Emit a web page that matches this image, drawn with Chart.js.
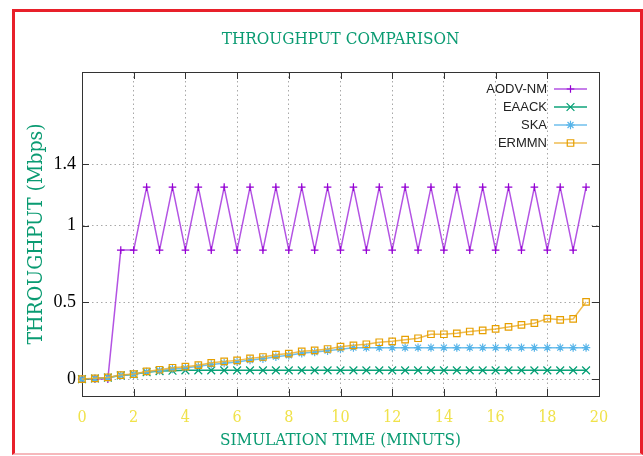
<!DOCTYPE html>
<html>
<head>
<meta charset="utf-8">
<script src="https://cdn.jsdelivr.net/npm/chart.js@4.4.1/dist/chart.umd.min.js"></script>
<style>
  html, body { margin: 0; padding: 0; background: #fff; }
  #wrap { position: relative; width: 643px; height: 456px; }
  #frame { position: absolute; left: 12px; top: 9px; width: 625px; height: 441px;
    border-left: 3px solid #e8202a; border-top: 3px solid #e8202a;
    border-right: 3px solid #e8202a; border-bottom: 2px solid #f6b8bc;
    pointer-events: none; }
</style>
</head>
<body>
<div id="wrap">
  <canvas id="chart" width="643" height="456"></canvas>
  <div id="frame"></div>
</div>
<script>
// simulation time in minutes
const time = [0, 0.5, 1, 1.5, 2, 2.5, 3, 3.5, 4, 4.5, 5, 5.5, 6, 6.5, 7, 7.5, 8, 8.5, 9, 9.5,
  10, 10.5, 11, 11.5, 12, 12.5, 13, 13.5, 14, 14.5, 15, 15.5, 16, 16.5, 17, 17.5, 18, 18.5, 19, 19.5]

// throughput (Mbps)
const aodvNm = [0, 0, 0, 0.84, 0.84, 1.25, 0.84, 1.25, 0.84, 1.25, 0.84, 1.25, 0.84, 1.25, 0.84, 1.25,
  0.84, 1.25, 0.84, 1.25, 0.84, 1.25, 0.84, 1.25, 0.84, 1.25, 0.84, 1.25, 0.84, 1.25, 0.84, 1.25,
  0.84, 1.25, 0.84, 1.25, 0.84, 1.25, 0.84, 1.25]
const eaack = [0, 0.004, 0.01, 0.024, 0.031, 0.045, 0.052, 0.055, 0.057, 0.057, 0.057, 0.057, 0.057,
  0.057, 0.057, 0.057, 0.057, 0.057, 0.057, 0.057, 0.057, 0.057, 0.057, 0.057, 0.057, 0.057, 0.057,
  0.057, 0.057, 0.057, 0.057, 0.057, 0.057, 0.057, 0.057, 0.057, 0.057, 0.057, 0.057, 0.057]
const ska = [0, 0.004, 0.01, 0.024, 0.031, 0.047, 0.056, 0.066, 0.073, 0.083, 0.095, 0.104, 0.112,
  0.124, 0.133, 0.146, 0.155, 0.168, 0.176, 0.185, 0.195, 0.205, 0.205, 0.205, 0.205, 0.205, 0.205,
  0.205, 0.205, 0.205, 0.205, 0.205, 0.205, 0.205, 0.205, 0.205, 0.205, 0.205, 0.205, 0.205]
const ermmn = [0, 0.005, 0.011, 0.026, 0.033, 0.05, 0.061, 0.074, 0.081, 0.091, 0.106, 0.115, 0.122,
  0.135, 0.144, 0.159, 0.166, 0.181, 0.187, 0.196, 0.211, 0.22, 0.227, 0.24, 0.246, 0.257, 0.266,
  0.292, 0.292, 0.298, 0.31, 0.318, 0.327, 0.34, 0.353, 0.364, 0.394, 0.386, 0.392, 0.503]

const seriesNames = ['AODV-NM', 'EAACK', 'SKA', 'ERMMN']
const yTicks = [0, 0.5, 1, 1.4]
const chartTitle = 'THROUGHPUT COMPARISON'

const GREEN_TEXT = '#0a9b72'
const YELLOW_TEXT = '#f0e24a'
const GRID = '#a8a8a8'
const slab = '"DejaVu Serif Condensed", "DejaVu Serif", serif'

function points (values) {
  return values.map((v, i) => ({ x: time[i], y: v }))
}

function series (label, values, color, lineColor, style, radius, order) {
  return {
    label,
    data: points(values),
    borderColor: lineColor,
    borderWidth: 1.5,
    pointStyle: style,
    pointRadius: radius,
    pointBorderColor: color,
    pointBackgroundColor: 'rgba(0,0,0,0)',
    pointBorderWidth: 1.2,
    tension: 0,
    clip: false,
    order
  }
}

// title centred over the plot area (gnuplot style), not over the whole canvas
const plotTitle = {
  id: 'plotTitle',
  afterDraw (chart) {
    const { ctx, chartArea } = chart
    ctx.save()
    ctx.font = '17px ' + slab
    ctx.fillStyle = GREEN_TEXT
    ctx.textAlign = 'center'
    ctx.textBaseline = 'middle'
    ctx.fillText(chartTitle, (chartArea.left + chartArea.right) / 2, 40)
    ctx.restore()
  }
}

// legend drawn inside the plot, text on the left and the sample on the right
const insideLegend = {
  id: 'insideLegend',
  afterDatasetsDraw (chart) {
    const { ctx, chartArea } = chart
    ctx.save()
    ctx.font = '13px "Liberation Sans Narrow", "Liberation Sans", sans-serif'
    ctx.textAlign = 'right'
    ctx.textBaseline = 'middle'
    chart.data.datasets.forEach((ds, i) => {
      const x = chartArea.right - 52
      const y = chartArea.top + 17 + i * 18
      ctx.fillStyle = '#222'
      ctx.fillText(ds.label, x, y)
      ctx.strokeStyle = ds.borderColor
      ctx.lineWidth = 1.5
      ctx.beginPath()
      ctx.moveTo(x + 7, y)
      ctx.lineTo(x + 40, y)
      ctx.stroke()
      ctx.strokeStyle = ds.pointBorderColor
      ctx.fillStyle = 'rgba(0,0,0,0)'
      ctx.lineWidth = 1.2
      Chart.helpers.drawPoint(ctx, { pointStyle: ds.pointStyle, radius: ds.pointRadius, borderWidth: 1.2, rotation: 0 }, x + 23.5, y)
    })
    ctx.restore()
  }
}

// gnuplot style box with inward tick marks
const plotBox = {
  id: 'plotBox',
  beforeDatasetsDraw (chart) {
    const { ctx, chartArea: a, scales } = chart
    ctx.save()
    ctx.strokeStyle = '#333'
    ctx.lineWidth = 1
    ctx.strokeRect(a.left + 0.5, a.top + 0.5, a.right - a.left, a.bottom - a.top)
    ctx.beginPath()
    scales.x.ticks.forEach(t => {
      const px = Math.round(scales.x.getPixelForValue(t.value)) + 0.5
      ctx.moveTo(px, a.bottom); ctx.lineTo(px, a.bottom - 7)
      ctx.moveTo(px, a.top); ctx.lineTo(px, a.top + 7)
    })
    scales.y.ticks.forEach(t => {
      const py = Math.round(scales.y.getPixelForValue(t.value)) + 0.5
      ctx.moveTo(a.left, py); ctx.lineTo(a.left + 7, py)
      ctx.moveTo(a.right, py); ctx.lineTo(a.right - 7, py)
    })
    ctx.stroke()
    ctx.restore()
  }
}

new Chart(document.getElementById('chart').getContext('2d'), {
  type: 'line',
  data: {
    datasets: [
      series(seriesNames[0], aodvNm, '#9400d3', 'rgba(160,40,220,0.8)', 'cross', 3.8, 3),
      series(seriesNames[1], eaack, '#009e73', 'rgba(0,158,115,0.95)', 'crossRot', 5.5, 2),
      series(seriesNames[2], ska, '#56b4e9', 'rgba(86,180,233,0.85)', 'star', 4.2, 1),
      series(seriesNames[3], ermmn, '#e69f00', 'rgba(236,176,50,0.85)', 'rect', 4.6, 0)
    ]
  },
  options: {
    responsive: false,
    animation: false,
    layout: { padding: { left: 0, right: 44, top: 72, bottom: 0 } },
    plugins: {
      legend: { display: false },
      tooltip: { enabled: false },
      title: { display: false }
    },
    scales: {
      x: {
        type: 'linear',
        min: 0,
        max: 20,
        ticks: {
          stepSize: 2,
          color: YELLOW_TEXT,
          padding: 12,
          font: { family: slab, size: 16 }
        },
        grid: {
          drawTicks: false,
          color: ctx => (ctx.tick.value === 0 || ctx.tick.value === 20) ? 'rgba(0,0,0,0)' : GRID,
          lineWidth: 1
        },
        border: { display: true, color: '#000', width: 1, dash: [1.5, 3] },
        title: {
          display: true,
          text: 'SIMULATION TIME (MINUTS)',
          color: GREEN_TEXT,
          font: { family: slab, size: 17, lineHeight: 1.2 },
          padding: { top: 0, bottom: 4.8 }
        },
        afterFit (scale) { scale.height = 60 }
      },
      y: {
        min: -0.11,
        max: 2.0,
        afterBuildTicks (scale) { scale.ticks = yTicks.map(v => ({ value: v })) },
        ticks: {
          color: '#000',
          padding: 6,
          font: { family: '"Liberation Serif", serif', size: 18 },
          callback: v => String(v)
        },
        grid: { drawTicks: false, color: GRID, lineWidth: 1 },
        border: { display: true, color: '#000', width: 1, dash: [1.5, 3] },
        title: {
          display: true,
          text: 'THROUGHPUT (Mbps)',
          color: GREEN_TEXT,
          font: { family: slab, size: 21, lineHeight: 1.2 },
          padding: { top: 24, bottom: 0 }
        },
        afterFit (scale) { scale.width = 82 }
      }
    }
  },
  plugins: [plotBox, insideLegend, plotTitle]
})
</script>
</body>
</html>
